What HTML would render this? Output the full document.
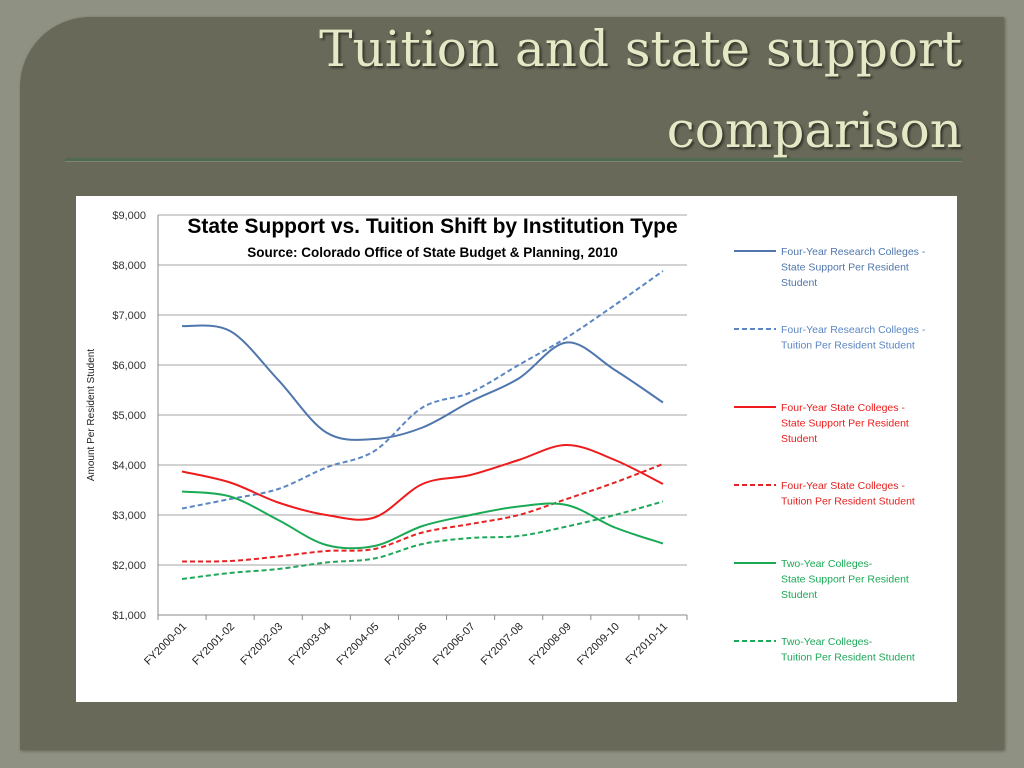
<!DOCTYPE html>
<html><head><meta charset="utf-8">
<style>
html,body{margin:0;padding:0;}
body{width:1024px;height:768px;overflow:hidden;background:#8f9282;position:relative;font-family:"Liberation Sans",sans-serif;}
#panel{position:absolute;left:20px;top:17px;width:984px;height:733px;background:#686958;border-radius:70px 0 0 0;box-shadow:1px 1px 3px rgba(0,0,0,.35);}
.title{position:absolute;right:62px;font-family:"DejaVu Serif","Liberation Serif",serif;font-size:50px;color:#e6e9c6;text-shadow:2px 2px 2px rgba(0,0,0,.5);white-space:nowrap;line-height:1;}
#rule{position:absolute;left:65px;top:158px;width:897px;height:3px;background:#4f6a4f;border-bottom:1px solid #7d8570;}
#chart{position:absolute;left:76px;top:196px;width:881px;height:506px;background:#fff;}
</style></head><body>
<div id="panel"></div>
<div class="title" style="top:24px">Tuition and state support</div>
<div class="title" style="top:105px">comparison</div>
<div id="rule"></div>
<div id="chart">
<svg id="svg" width="881" height="506" xmlns="http://www.w3.org/2000/svg"></svg>
</div>
<script>
const categories=["FY2000-01","FY2001-02","FY2002-03","FY2003-04","FY2004-05","FY2005-06","FY2006-07","FY2007-08","FY2008-09","FY2009-10","FY2010-11"];
const researchSupport=[6780,6680,5700,4650,4520,4750,5270,5730,6450,5900,5250];
const researchTuition=[3130,3320,3520,3950,4280,5150,5450,6000,6550,7200,7880];
const stateSupport=[3870,3650,3250,3000,2950,3620,3800,4100,4400,4100,3620];
const stateTuition=[2070,2080,2170,2280,2320,2650,2820,3000,3320,3650,4020];
const twoYearSupport=[3470,3370,2900,2400,2380,2780,3000,3170,3200,2750,2430];
const twoYearTuition=[1720,1840,1920,2050,2130,2420,2540,2580,2770,3000,3270];
const yTicks=[1000,2000,3000,4000,5000,6000,7000,8000,9000];
const legendLabels=[["Four-Year Research Colleges -","State Support Per Resident","Student"],["Four-Year Research  Colleges -","Tuition Per Resident Student"],["Four-Year State Colleges -","State Support Per Resident","Student"],["Four-Year State Colleges -","Tuition Per Resident Student"],["Two-Year Colleges-","State Support Per Resident","Student"],["Two-Year Colleges-","Tuition Per Resident Student"]];

const OX=76,OY=196;
const L=158-OX,R=687-OX,T=215-OY,B=615-OY;
const ymin=1000,ymax=9000;
function xs(i){return L+(R-L)/categories.length*(i+0.5);}
function ys(v){return B-(v-ymin)/(ymax-ymin)*(B-T);}
const svg=document.getElementById('svg');
const NS="http://www.w3.org/2000/svg";
function mk(tag,attrs,text){const e=document.createElementNS(NS,tag);for(const k in attrs)e.setAttribute(k,attrs[k]);if(text!==undefined)e.textContent=text;svg.appendChild(e);return e;}

yTicks.forEach(v=>{
  if(v>ymin){const g=mk('line',{x1:L,x2:R,y1:ys(v),y2:ys(v),stroke:'#a6a6a6','stroke-width':1});
  
  }
  const t=mk('text',{x:L-12,y:ys(v)+4,'text-anchor':'end','font-size':11,fill:'#333'},'$'+v.toLocaleString('en-US'));
  
  
});
const ax=mk('line',{x1:L,x2:L,y1:T,y2:B,stroke:'#888'});


const bx=mk('line',{x1:L,x2:R,y1:B,y2:B,stroke:'#888'});


for(let i=0;i<=categories.length;i++){const x=L+(R-L)/categories.length*i;mk('line',{x1:x,x2:x,y1:B,y2:B+5,stroke:'#888'});}
categories.forEach((c,i)=>{
  const x=xs(i)+5,y=B+12;
  const t=mk('text',{x:x,y:y,'text-anchor':'end','font-size':11,fill:'#222',transform:`rotate(-45 ${x} ${y})`},c);
  
  
});
const yt=mk('text',{x:0,y:0,'text-anchor':'middle','font-size':10,fill:'#222',transform:`translate(18 ${(T+B)/2}) rotate(-90)`},'Amount Per Resident Student');


const t1=mk('text',{x:(L+R)/2+10,y:37,'text-anchor':'middle','font-size':21,'font-weight':'bold',fill:'#000'},'State Support vs. Tuition Shift by Institution Type');


const t2=mk('text',{x:(L+R)/2+10,y:61,'text-anchor':'middle','font-size':13.5,'font-weight':'bold',fill:'#000'},'Source: Colorado Office of State Budget & Planning, 2010');



function smooth(vals){
  const p=vals.map((v,i)=>[xs(i),ys(v)]);
  let d='M'+p[0][0]+','+p[0][1];
  for(let i=0;i<p.length-1;i++){
    const p0=p[i-1]||p[i],p1=p[i],p2=p[i+1],p3=p[i+2]||p[i+1];
    const c1=[p1[0]+(p2[0]-p0[0])/6,p1[1]+(p2[1]-p0[1])/6];
    const c2=[p2[0]-(p3[0]-p1[0])/6,p2[1]-(p3[1]-p1[1])/6];
    d+=` C${c1[0]},${c1[1]} ${c2[0]},${c2[1]} ${p2[0]},${p2[1]}`;
  }
  return d;
}
const series=[[researchSupport,'#4f76ad',false,'research-support-line'],[researchTuition,'#5b86c4',true,'research-tuition-line'],[stateSupport,'#ee1c1c',false,'state-support-line'],[stateTuition,'#e52222',true,'state-tuition-line'],[twoYearSupport,'#1aaa55',false,'two-year-support-line'],[twoYearTuition,'#1fa75a',true,'two-year-tuition-line']];
series.forEach((s,k)=>{
  const p=mk('path',{d:smooth(s[0]),fill:'none',stroke:s[1],'stroke-width':2,'stroke-dasharray':s[2]?'5,3':'none'});
  
  
  const ly=[55,133,211,289,367,445][k];
  const ll=mk('line',{x1:658,x2:700,y1:ly,y2:ly,stroke:s[1],'stroke-width':2,'stroke-dasharray':s[2]?'5,3':'none'});
  
  
  legendLabels[k].forEach((txt,j)=>{
    const lt=mk('text',{x:705,y:ly+4+j*15.5,'font-size':10.5,fill:s[1]},txt);
    
    
  });
});
</script>
</body></html>
